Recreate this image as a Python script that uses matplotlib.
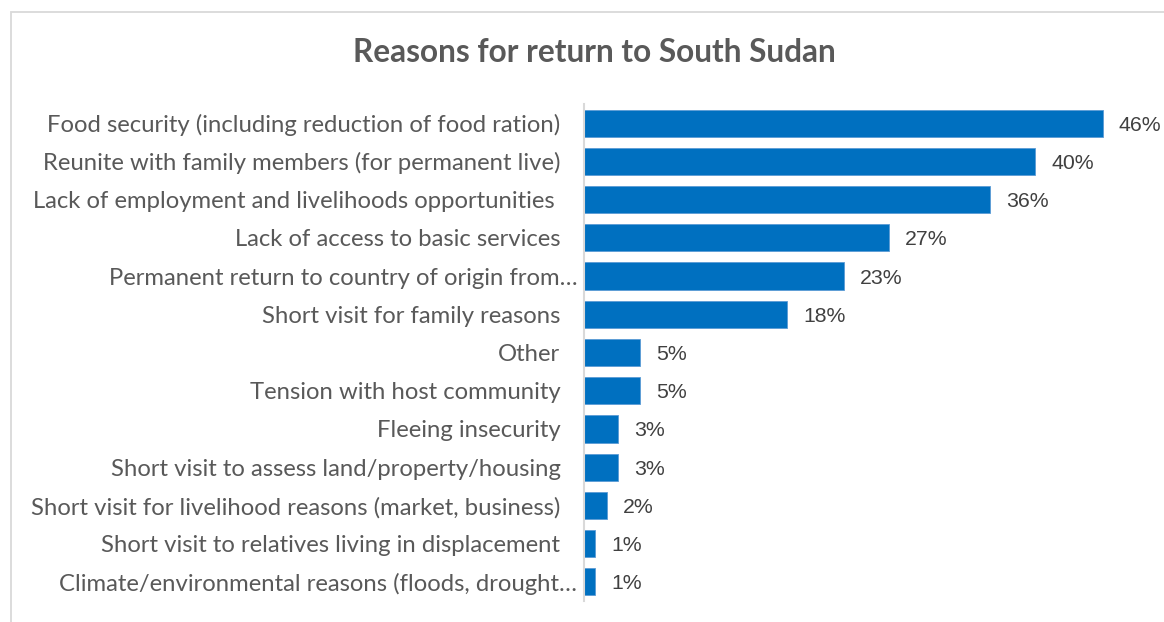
import matplotlib
matplotlib.use("Agg")
import matplotlib.pyplot as plt
from matplotlib.patches import Rectangle
from matplotlib.transforms import ScaledTranslation

categories = [
    "Food security (including reduction of food ration)",
    "Reunite with family members (for permanent live)",
    "Lack of employment and livelihoods opportunities ",
    "Lack of access to basic services",
    "Permanent return to country of origin from…",
    "Short visit for family reasons",
    "Other",
    "Tension with host community",
    "Fleeing insecurity",
    "Short visit to assess land/property/housing",
    "Short visit for livelihood reasons (market, business)",
    "Short visit to relatives living in displacement",
    "Climate/environmental reasons (floods, drought…",
]
values = [46, 40, 36, 27, 23, 18, 5, 5, 3, 3, 2, 1, 1]
title = "Reasons for return to South Sudan"

W, H = 1164, 622
fig = plt.figure(figsize=(W / 100, H / 100), dpi=100)
fig.patch.set_facecolor("white")

# outer chart frame (extends past the image on right/bottom)
fig.add_artist(Rectangle((11 / W, -0.1), 1.2, 1 - 12 / H + 0.1, transform=fig.transFigure,
                         fill=False, edgecolor="#d9d9d9", linewidth=1.3))

ax_left, ax_right = 584, 1164
ax_top, ax_bot = 104.0, 601.0
ax = fig.add_axes([ax_left / W, 1 - ax_bot / H, (ax_right - ax_left) / W, (ax_bot - ax_top) / H])

n = len(categories)
ypos = list(range(n))
ax.barh(ypos, values, height=0.71, color="#0070C0", edgecolor="#5b9bd5", linewidth=0.6)
ax.set_ylim(n - 0.5, -0.5)
px_per_unit = 519 / 46
ax.set_xlim(0, (ax_right - ax_left) / px_per_unit)

for y, v in zip(ypos, values):
    ax.annotate(f"{v}%", (v, y), xytext=(11.5, 0), textcoords="offset points",
                va="center_baseline", ha="left", fontsize=15.3, color="#404040",
                family="Liberation Sans")

ax.set_yticks(ypos)
ax.set_yticklabels(categories, fontsize=17.2, color="#595959", family="Lato")
ax.tick_params(axis="y", length=0, pad=17)
ax.tick_params(axis="x", bottom=False, labelbottom=False)
# truncated labels (ending with an ellipsis) sit closer to the axis
for lbl in ax.get_yticklabels():
    if lbl.get_text().endswith("…"):
        lbl.set_transform(lbl.get_transform() + ScaledTranslation(17 / 100, 0, fig.dpi_scale_trans))
for s in ["top", "right", "bottom"]:
    ax.spines[s].set_visible(False)
ax.spines["left"].set_color("#d9d9d9")
ax.spines["left"].set_linewidth(1.5)

fig.text(594 / W, 1 - 53 / H, title, ha="center", va="center", fontsize=22.8,
         fontweight="bold", color="#595959", family="Lato")

fig.savefig("out.png", dpi=100, facecolor="white")
